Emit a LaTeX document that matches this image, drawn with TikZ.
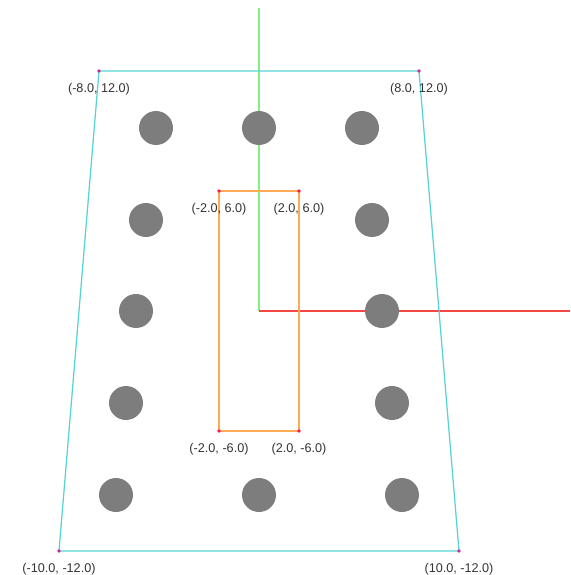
\documentclass[tikz,border=0pt]{standalone}
\usepackage{fontspec}
\setmainfont{Liberation Sans}
\definecolor{trapc}{RGB}{88,212,212}
\definecolor{rectc}{RGB}{255,170,85}
\definecolor{axy}{RGB}{130,240,130}
\definecolor{axx}{RGB}{245,70,70}
\definecolor{holec}{RGB}{125,125,125}
\definecolor{tdot}{RGB}{200,40,160}
\definecolor{rdot}{RGB}{255,20,90}
\tikzset{
  trap/.style={draw=trapc, line width=0.9pt},
  rectline/.style={draw=rectc, line width=0.9pt},
  axisy/.style={draw=axy, line width=0.9pt},
  axisx/.style={draw=axx, line width=0.8pt},
  hole/.style={circle, fill=holec, inner sep=0pt, minimum size=1.7*0.5cm},
  tpt/.style={circle, fill=tdot, inner sep=0pt, minimum size=2.6pt},
  rpt/.style={circle, fill=rdot, inner sep=0pt, minimum size=2.6pt},
  lbl/.style={font=\fontsize{9}{10}\selectfont, text=black!80, inner sep=0pt}
}
\begin{document}
\begin{tikzpicture}[x=0.5cm,y=0.5cm]
\useasboundingbox (-12.95,-13.2) rectangle (15.55,15.55);
% axes
\coordinate (O) at (0,0);
\coordinate (Ytip) at (0,15.15);
\coordinate (Xtip) at (15.55,0);
\draw[axisy] (O) -- (Ytip);
\draw[axisx] (O) -- (Xtip);
% rectangle
\coordinate (R1) at (-2,6);
\coordinate (R2) at (2,6);
\coordinate (R3) at (2,-6);
\coordinate (R4) at (-2,-6);
\draw[rectline] (R1) -- (R2) -- (R3) -- (R4) -- cycle;
% trapezoid
\coordinate (T1) at (-8,12);
\coordinate (T2) at (8,12);
\coordinate (T3) at (10,-12);
\coordinate (T4) at (-10,-12);
\draw[trap] (T1) -- (T2) -- (T3) -- (T4) -- cycle;
% holes
\node[hole] (h1) at (-5.15,9.15) {};
\node[hole] (h2) at (0,9.15) {};
\node[hole] (h3) at (5.15,9.15) {};
\node[hole] (h4) at (-5.65,4.55) {};
\node[hole] (h5) at (5.65,4.55) {};
\node[hole] (h6) at (-6.15,0) {};
\node[hole] (h7) at (6.15,0) {};
\node[hole] (h8) at (-6.65,-4.6) {};
\node[hole] (h9) at (6.65,-4.6) {};
\node[hole] (h10) at (-7.15,-9.2) {};
\node[hole] (h11) at (0,-9.2) {};
\node[hole] (h12) at (7.15,-9.2) {};
% corner dots
\node[tpt] (dT1) at (T1) {};
\node[tpt] (dT2) at (T2) {};
\node[tpt] (dT3) at (T3) {};
\node[tpt] (dT4) at (T4) {};
\node[rpt] (dR1) at (R1) {};
\node[rpt] (dR2) at (R2) {};
\node[rpt] (dR3) at (R3) {};
\node[rpt] (dR4) at (R4) {};
% labels
\node[lbl] (lT1) at (-8,11.1) {(-8.0, 12.0)};
\node[lbl] (lT2) at (8,11.1) {(8.0, 12.0)};
\node[lbl] (lT3) at (10,-12.9) {(10.0, -12.0)};
\node[lbl] (lT4) at (-10,-12.9) {(-10.0, -12.0)};
\node[lbl] (lR1) at (-2,5.1) {(-2.0, 6.0)};
\node[lbl] (lR2) at (2,5.1) {(2.0, 6.0)};
\node[lbl] (lR3) at (2,-6.9) {(2.0, -6.0)};
\node[lbl] (lR4) at (-2,-6.9) {(-2.0, -6.0)};
\end{tikzpicture}
\end{document}
